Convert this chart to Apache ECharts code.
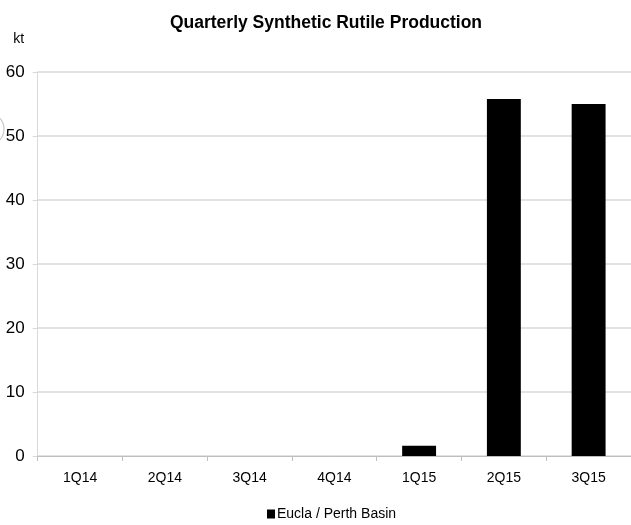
<!DOCTYPE html>
<html>
<head>
<meta charset="utf-8">
<script src="https://cdn.jsdelivr.net/npm/echarts@6/dist/echarts.min.js"></script>
<style>
html,body{margin:0;padding:0;background:#fff;}
#chart{width:631px;height:525px;}
</style>
</head>
<body>
<div id="chart"></div>
<script>
const categories = ['1Q14','2Q14','3Q14','4Q14','1Q15','2Q15','3Q15'];
const euclaPerth = [0, 0, 0, 0, 1.6, 55.8, 55.0];
const yTicks = [0, 10, 20, 30, 40, 50, 60];
const seriesName = 'Eucla / Perth Basin';
const titleText = 'Quarterly Synthetic Rutile Production';
const unitText = 'kt';

const FONT = '"Liberation Sans Narrow", "Arial Narrow", "Liberation Sans", Arial, sans-serif';
const chart = echarts.init(document.getElementById('chart'), null, {renderer:'canvas'});
chart.setOption({
  animation: false,
  backgroundColor: '#fff',
  title: {
    text: titleText,
    left: 321, top: 9, textAlign: 'center',
    textStyle: {fontFamily: FONT, fontWeight: 'bold', fontSize: 17.5, color: '#000'}
  },
  legend: {
    data: [seriesName],
    left: 262, top: 502,
    icon: 'rect', itemWidth: 8, itemHeight: 9, itemGap: 3,
    textStyle: {fontFamily: FONT, fontSize: 14, color: '#000', padding: [0,0,0,-3]}
  },
  grid: {left: 37.7, right: -1.5, top: 72, bottom: 69, containLabel: false},
  xAxis: {
    type: 'category',
    data: categories,
    boundaryGap: true,
    axisLine: {lineStyle: {color: '#bfbfbf', width: 1}},
    axisTick: {show: true, length: 5, alignWithLabel: false, lineStyle: {color: '#bfbfbf'}},
    axisLabel: {fontFamily: FONT, fontSize: 14, color: '#000', margin: 15}
  },
  yAxis: {
    type: 'value',
    name: unitText,
    nameLocation: 'end',
    nameGap: 26,
    nameTextStyle: {fontFamily: FONT, fontSize: 14, color: '#000', align: 'center', padding: [0, 38, 0, 0]},
    min: yTicks[0], max: yTicks[yTicks.length-1], interval: 10,
    axisLine: {show: true, lineStyle: {color: '#d9d9d9'}},
    axisTick: {show: true, length: 5, lineStyle: {color: '#d9d9d9'}},
    splitLine: {show: true, lineStyle: {color: '#d9d9d9', width: 1.5}},
    axisLabel: {fontFamily: FONT, fontSize: 17, color: '#000', margin: 13}
  },
  graphic: [{
    type: 'circle', shape: {cx: -12, cy: 129, r: 16},
    style: {fill: 'none', stroke: '#c8c8c8', lineWidth: 1.2}, silent: true
  }],
  series: [{
    name: seriesName,
    type: 'bar',
    data: euclaPerth,
    barWidth: '40%',
    itemStyle: {color: '#000', borderWidth: 0}
  }]
});
</script>
</body>
</html>
